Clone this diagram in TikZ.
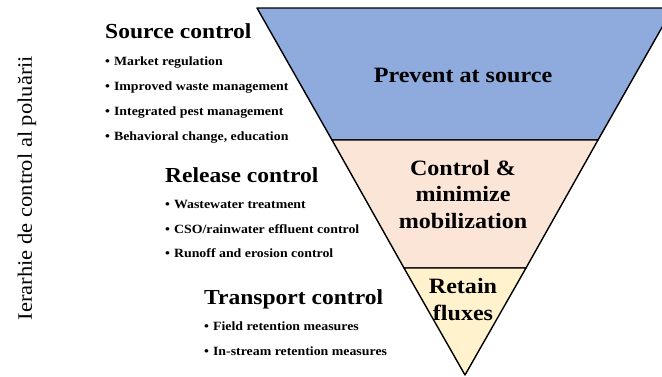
\documentclass[tikz,border=0pt]{standalone}
\usepackage{tikz}
\usepackage{xcolor}
\usepackage{fontspec}
\setmainfont{Liberation Serif}[FakeStretch=1.1]

\definecolor{srcblue}{RGB}{143,170,220}
\definecolor{relpeach}{RGB}{251,229,214}
\definecolor{trnyellow}{RGB}{255,242,204}

\tikzset{
  head/.style={anchor=base west, inner sep=0pt, font=\fontsize{21.4}{24}\selectfont\bfseries},
  bitem/.style={anchor=base west, inner sep=0pt, font=\fontsize{12.6}{14}\selectfont\bfseries},
  bandtext/.style={align=center, inner sep=0pt, font=\fontsize{21.9}{26.5}\selectfont\bfseries},
  band/.style={draw=black, line width=1.4pt, line join=round}
}
\newcommand{\bul}{\textbullet\hspace{4pt}}

\begin{document}
\begin{tikzpicture}[x=1pt, y=-1pt]
  \useasboundingbox (0,0) rectangle (662,376);
  \clip (0,0) rectangle (662,376);

  % inverted triangle, three bands
  \coordinate (tl) at (257,8);
  \coordinate (tr) at (673,8);
  \coordinate (m1l) at (332,140);
  \coordinate (m1r) at (598,140);
  \coordinate (m2l) at (404,268);
  \coordinate (m2r) at (526,268);
  \coordinate (apex) at (465,375);

  \draw[band, fill=srcblue] (tl) -- (tr) -- (m1r) -- (m1l) -- cycle;
  \draw[band, fill=relpeach] (m1l) -- (m1r) -- (m2r) -- (m2l) -- cycle;
  \draw[band, fill=trnyellow] (m2l) -- (m2r) -- (apex) -- cycle;

  % last line baseline is the node's base
  \node[bandtext, anchor=base] (prevent) at (463,82) {Prevent at source};
  \node[bandtext, anchor=base] (minimize) at (463,228) {Control \&\\minimize\\mobilization};
  \node[bandtext, anchor=base] (retain) at (463,320) {Retain\\fluxes};

  % left side labels
  \node[head] (source) at (105,38) {Source control};
  \node[bitem] (s1) at (105,65) {\bul Market regulation};
  \node[bitem] (s2) at (105,90) {\bul Improved waste management};
  \node[bitem] (s3) at (105,115) {\bul Integrated pest management};
  \node[bitem] (s4) at (105,140) {\bul Behavioral change, education};

  \node[head] (release) at (165,182) {Release control};
  \node[bitem] (r1) at (165,208) {\bul Wastewater treatment};
  \node[bitem] (r2) at (165,233) {\bul CSO/rainwater effluent control};
  \node[bitem] (r3) at (165,257) {\bul Runoff and erosion control};

  \node[head] (transport) at (204,304) {Transport control};
  \node[bitem] (t1) at (204,330) {\bul Field retention measures};
  \node[bitem] (t2) at (204,355) {\bul In-stream retention measures};

  \node[rotate=90, font=\fontsize{20.5}{22}\selectfont] (hier) at (27,188) {Ierarhie de control al poluării};
\end{tikzpicture}
\end{document}
